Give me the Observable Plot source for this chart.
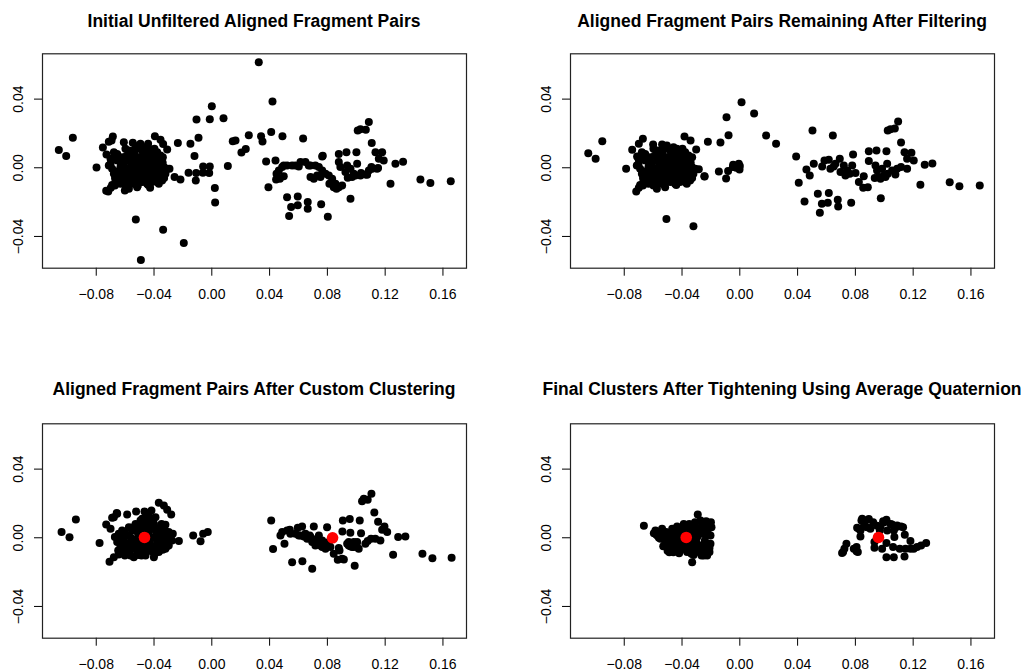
<!DOCTYPE html>
<html><head><meta charset="utf-8">
<script src="https://cdn.jsdelivr.net/npm/d3@7"></script>
<script src="https://cdn.jsdelivr.net/npm/@observablehq/plot@0.6"></script>
<style>
html,body{margin:0;padding:0;background:#fff;}
#root{position:relative;width:1028px;height:672px;overflow:hidden;background:#fff;font-family:"Liberation Sans",Arial,Helvetica,sans-serif;}
.title{position:absolute;font-weight:bold;font-size:17.5px;line-height:20px;text-align:center;white-space:nowrap;color:#000;}
</style></head><body><div id="root"></div>
<script>
// ---------- data ----------
const titles = [
  "Initial Unfiltered Aligned Fragment Pairs",
  "Aligned Fragment Pairs Remaining After Filtering",
  "Aligned Fragment Pairs After Custom Clustering",
  "Final Clusters After Tightening Using Average Quaternion"
];
const xTicks = [-0.08, -0.04, 0.00, 0.04, 0.08, 0.12, 0.16];
const yTicks = [-0.04, 0.00, 0.04];
const xDomain = [-0.1172, 0.1763];
const yDomain = [-0.0585, 0.0664];

// dense left cluster shared by the first two panels
const blobP12 = [
[-0.0701,0.0023],[-0.0690,-0.0006],[-0.0678,-0.0035],[-0.0667,0.0062],[-0.0655,0.0043],[-0.0667,-0.0083],
[-0.0644,-0.0054],[-0.0632,0.0004],[-0.0621,-0.0025],[-0.0609,0.0023],[-0.0604,-0.0074],[-0.0591,-0.0035],
[-0.0586,-0.0006],[-0.0574,0.0043],[-0.0568,-0.0064],[-0.0558,0.0072],[-0.0551,0.0014],[-0.0544,-0.0025],
[-0.0540,-0.0093],[-0.0535,0.0081],[-0.0528,0.0043],[-0.0521,0.0004],[-0.0517,-0.0045],[-0.0512,-0.0083],
[-0.0505,0.0062],[-0.0498,0.0111],[-0.0494,0.0023],[-0.0489,-0.0016],[-0.0482,-0.0054],[-0.0475,0.0081],
[-0.0471,0.0043],[-0.0466,0.0004],[-0.0459,-0.0035],[-0.0452,-0.0074],[-0.0448,0.0062],[-0.0443,0.0023],
[-0.0436,-0.0006],[-0.0429,-0.0045],[-0.0424,0.0091],[-0.0420,0.0043],[-0.0413,0.0004],[-0.0406,-0.0025],
[-0.0401,-0.0064],[-0.0397,0.0062],[-0.0390,0.0023],[-0.0383,-0.0016],[-0.0378,-0.0083],[-0.0374,0.0043],
[-0.0367,0.0004],[-0.0360,-0.0045],[-0.0355,0.0014],[-0.0351,-0.0016],[-0.0344,-0.0074],[-0.0551,0.0091],
[-0.0528,0.0120],[-0.0505,0.0130],[-0.0482,0.0101],[-0.0459,0.0120],[-0.0436,0.0111],[-0.0413,0.0062],
[-0.0563,-0.0054],[-0.0598,-0.0103],[-0.0574,-0.0122],[-0.0551,-0.0083],[-0.0517,-0.0113],[-0.0482,-0.0083],
[-0.0448,-0.0093],[-0.0413,-0.0083],[-0.0378,-0.0054],[-0.0655,0.0081],[-0.0678,0.0091],[-0.0701,0.0052],
[-0.0713,0.0014],[-0.0632,-0.0093],[-0.0621,0.0062],[-0.0598,0.0111],[-0.0574,0.0101],[-0.0397,0.0111],
[-0.0378,0.0091],[-0.0355,0.0072],[-0.0332,0.0004],[-0.0321,-0.0035],[-0.0309,-0.0006],[-0.0367,-0.0093],
[-0.0505,-0.0025],[-0.0540,-0.0035],[-0.0459,-0.0016],[-0.0424,-0.0054],[-0.0494,0.0052],
[-0.0717,-0.0138],[-0.0699,-0.0116],[-0.0671,-0.0103],
[-0.0690,-0.0100],[-0.0670,-0.0060],[-0.0650,-0.0020],[-0.0630,0.0030],[-0.0610,-0.0050],[-0.0590,0.0070],
[-0.0570,-0.0090],[-0.0560,0.0030],[-0.0540,0.0100],[-0.0530,-0.0060],[-0.0510,-0.0030],[-0.0500,0.0030],
[-0.0480,0.0000],[-0.0470,0.0100],[-0.0460,-0.0060],[-0.0450,0.0040],[-0.0440,-0.0100],[-0.0430,0.0080],
[-0.0420,-0.0020],[-0.0400,0.0020],[-0.0390,-0.0050],[-0.0370,0.0070],[-0.0360,-0.0020],[-0.0340,0.0030],
[-0.0330,-0.0060]
];

const extraP1 = [
[-0.1059,0.0103],[-0.1008,0.0068],[-0.0962,0.0175],[-0.0798,0.0002],[-0.0754,0.0118],[-0.0729,0.0078],
[-0.0731,-0.0134],[-0.0713,0.0151],[-0.0685,0.0182],[-0.0694,0.0159],[-0.0609,0.0149],[-0.0547,0.0146],
[-0.0394,0.0184],[-0.0355,0.0163],[-0.0337,0.0138],[-0.0309,0.0107],[-0.0235,0.0144],[-0.0494,0.0140],
[-0.0441,0.0140],[-0.0339,0.0062],[-0.0293,-0.0006],[-0.0258,-0.0054],[-0.0217,-0.0068],[-0.0148,0.0140],
[-0.0120,0.0068],[-0.0092,0.0175],[-0.0106,0.0281],[-0.0014,0.0283],[0.0000,0.0359],[0.0081,0.0289],
[-0.0161,-0.0029],[-0.0111,-0.0074],[-0.0108,-0.0031],[-0.0060,0.0008],[-0.0062,-0.0029],[-0.0014,0.0008],
[-0.0018,-0.0031],[0.0021,-0.0118],[0.0023,-0.0202],[0.0111,0.0010],[0.0145,0.0155],[0.0164,0.0159],
[0.0205,0.0089],[0.0235,0.0109],[0.0256,0.0190],[0.0325,0.0615],[0.0341,0.0184],[0.0351,0.0153],
[0.0376,0.0037],[0.0392,-0.0114],[0.0411,0.0208],[0.0420,0.0386],[0.0441,0.0043],[0.0489,0.0184],
[0.0632,0.0171],[-0.0526,-0.0301],[-0.0337,-0.0361],[-0.0194,-0.0438],[-0.0491,-0.0537],[-0.0427,-0.0116],
[-0.0602,-0.0132],[-0.0579,-0.0113],[-0.0512,-0.0103]
];

const rightP1 = [
[0.0448,-0.0035],[0.0464,-0.0016],[0.0487,0.0004],[0.0498,0.0014],[0.0521,0.0014],[0.0556,0.0014],
[0.0579,0.0014],[0.0602,0.0008],[0.0614,0.0033],[0.0648,0.0033],[0.0671,0.0014],[0.0683,0.0014],
[0.0717,0.0014],[0.0741,0.0004],[0.0764,-0.0016],[0.0787,-0.0035],[0.0810,-0.0045],[0.0833,-0.0064],
[0.0856,-0.0093],[0.0879,-0.0113],[0.0902,-0.0103],[0.0683,-0.0054],[0.0706,-0.0064],[0.0729,-0.0045],
[0.0752,-0.0054],[0.0764,0.0066],[0.0879,0.0081],[0.0932,0.0091],[0.1001,0.0091],[0.0879,0.0033],
[0.0937,0.0014],[0.0960,-0.0006],[0.0983,-0.0035],[0.1006,0.0023],[0.1029,-0.0045],[0.1064,-0.0039],
[0.1087,-0.0016],[0.1110,-0.0006],[0.1144,-0.0006],[0.0521,-0.0171],[0.0595,-0.0167],[0.0549,-0.0229],
[0.0595,-0.0219],[0.0664,-0.0200],[0.0664,-0.0239],[0.0535,-0.0281],[0.0757,-0.0213],[0.0803,-0.0285],
[0.0960,-0.0180],[0.1010,0.0217],[0.1029,0.0225],[0.1066,0.0221],[0.1087,0.0266],[0.1107,0.0144],
[0.1133,0.0091],[0.1179,0.0091],[0.1156,0.0052],[0.1190,0.0043],[0.1237,-0.0093],[0.1271,0.0023],
[0.1324,0.0035],[0.1444,-0.0068],[0.1513,-0.0089],[0.1654,-0.0078],[0.0890,0.0004],[0.0925,-0.0025],
[0.0941,-0.0058],[0.0971,-0.0054],[0.0994,-0.0045],[0.1033,-0.0031],[0.1075,-0.0041],[0.0814,-0.0093],
[0.0844,-0.0113],[0.0863,-0.0122],[0.0445,-0.0068],[0.0471,-0.0064],[0.0498,-0.0050],[0.0768,0.0070],
[0.1151,-0.0002],[0.1105,0.0004]
];

const extraP2 = [
[-0.1049,0.0085],[-0.0998,0.0052],[-0.0952,0.0155],[-0.0787,-0.0006],[-0.0745,0.0105],[-0.0711,0.0066],
[-0.0699,0.0140],[-0.0671,0.0169],[-0.0600,0.0136],[-0.0538,0.0136],[-0.0383,0.0182],[-0.0341,0.0159],
[-0.0302,0.0107],[-0.0330,0.0062],[-0.0284,-0.0008],[-0.0245,-0.0049],[-0.0221,0.0151],[-0.0134,0.0147],
[-0.0078,0.0190],[-0.0092,0.0295],[0.0012,0.0382],[0.0099,0.0316],[0.0182,0.0188],[0.0251,0.0140],
[-0.0145,-0.0021],[-0.0095,-0.0062],[-0.0081,-0.0019],[-0.0048,0.0004],[-0.0025,0.0000],[0.0000,0.0010],
[-0.0002,-0.0010],[-0.0508,-0.0299],[-0.0321,-0.0341],[-0.0244,-0.0051],[-0.0046,0.0017],[-0.0007,0.0023]
];

const rightP2 = [
[0.0390,0.0066],[0.0408,-0.0087],[0.0448,-0.0196],[0.0503,0.0217],[0.0644,0.0188],[0.0484,-0.0045],
[0.0461,-0.0010],[0.0512,0.0023],[0.0540,-0.0151],[0.0568,-0.0210],[0.0554,-0.0262],[0.0609,-0.0204],
[0.0616,-0.0147],[0.0678,-0.0186],[0.0681,-0.0225],[0.0771,-0.0204],[0.0976,-0.0178],[0.0570,0.0008],
[0.0586,0.0043],[0.0616,0.0047],[0.0627,-0.0006],[0.0650,0.0008],[0.0662,0.0023],[0.0692,0.0052],
[0.0697,-0.0025],[0.0720,0.0014],[0.0731,-0.0045],[0.0743,-0.0016],[0.0761,-0.0035],[0.0784,0.0078],
[0.0778,0.0014],[0.0801,-0.0031],[0.0824,-0.0083],[0.0858,-0.0050],[0.0854,-0.0116],[0.0886,-0.0113],
[0.0893,0.0097],[0.0946,0.0101],[0.1015,0.0097],[0.0893,0.0039],[0.0939,0.0014],[0.0950,-0.0016],
[0.0962,-0.0054],[0.0985,-0.0006],[0.0997,-0.0045],[0.1020,0.0023],[0.1024,-0.0035],[0.1054,-0.0016],
[0.1077,-0.0039],[0.1089,-0.0006],[0.1116,0.0004],[0.1158,-0.0006],[0.1024,0.0217],[0.1043,0.0225],
[0.1073,0.0229],[0.1096,0.0270],[0.1116,0.0147],[0.1140,0.0091],[0.1188,0.0087],[0.1158,0.0052],
[0.1204,0.0043],[0.1250,-0.0099],[0.1280,0.0017],[0.1333,0.0025],[0.1453,-0.0084],[0.1520,-0.0107],
[0.1661,-0.0103],[0.0934,-0.0060],[0.0974,-0.0064],[0.1008,-0.0054]
];

const leftP3 = [
[-0.1040,0.0033],[-0.0985,0.0003],[-0.0941,0.0107],[-0.0777,-0.0031],[-0.0731,0.0078],[-0.0701,0.0052],
[-0.0690,0.0116],[-0.0658,0.0144],[-0.0586,0.0136],[-0.0524,0.0153],[-0.0466,0.0153],[-0.0418,0.0159],
[-0.0367,0.0204],[-0.0332,0.0188],[-0.0309,0.0163],[-0.0281,0.0136],[-0.0321,0.0076],[-0.0270,0.0023],
[-0.0228,-0.0019],[-0.0129,0.0013],[-0.0078,-0.0020],[-0.0060,0.0023],[-0.0028,0.0033],[-0.0708,-0.0140],
[-0.0678,-0.0113],[-0.0644,-0.0097],[-0.0655,0.0140],[-0.0678,0.0120],
[-0.0671,0.0004],[-0.0655,-0.0025],[-0.0644,0.0023],[-0.0632,-0.0050],[-0.0621,0.0043],[-0.0609,-0.0006],
[-0.0598,-0.0074],[-0.0586,0.0014],[-0.0574,-0.0035],[-0.0563,-0.0103],[-0.0551,0.0043],[-0.0547,-0.0064],
[-0.0533,-0.0012],[-0.0528,0.0081],[-0.0517,-0.0083],[-0.0510,0.0023],[-0.0501,-0.0045],[-0.0494,0.0101],
[-0.0487,-0.0103],[-0.0482,0.0052],[-0.0471,-0.0064],[-0.0459,-0.0025],[-0.0448,0.0101],[-0.0441,0.0023],
[-0.0431,0.0120],[-0.0424,-0.0045],[-0.0418,0.0062],[-0.0408,-0.0083],[-0.0401,0.0004],[-0.0394,-0.0093],
[-0.0390,0.0043],[-0.0378,-0.0025],[-0.0371,-0.0064],[-0.0362,0.0014],[-0.0355,0.0062],[-0.0348,-0.0045],
[-0.0339,-0.0006],[-0.0332,0.0033],[-0.0321,-0.0064],[-0.0316,0.0014],[-0.0309,-0.0025],[-0.0298,-0.0045],
[-0.0286,0.0014],[-0.0275,-0.0016],[-0.0648,-0.0074],[-0.0602,-0.0103],[-0.0574,0.0062],[-0.0540,-0.0113],
[-0.0459,-0.0103],[-0.0424,-0.0006],[-0.0482,0.0111],[-0.0448,0.0062],[-0.0505,-0.0006],[-0.0616,-0.0039],
[-0.0348,0.0081],[-0.0325,-0.0031],[-0.0298,0.0033],[-0.0401,-0.0113],[-0.0367,-0.0083],
[-0.0640,-0.0010],[-0.0620,0.0010],[-0.0600,0.0030],[-0.0590,-0.0040],[-0.0570,-0.0070],[-0.0560,0.0000],
[-0.0550,0.0060],[-0.0530,-0.0040],[-0.0520,0.0040],[-0.0510,-0.0100],[-0.0500,0.0060],[-0.0490,-0.0020],
[-0.0470,0.0080],[-0.0460,-0.0060],[-0.0450,-0.0080],[-0.0440,0.0040],[-0.0430,-0.0020],[-0.0410,-0.0050],
[-0.0400,0.0080],[-0.0380,0.0030],[-0.0370,-0.0040],[-0.0350,0.0000],[-0.0340,-0.0070],[-0.0330,0.0050],
[-0.0310,-0.0050],[-0.0300,0.0000],[-0.0390,0.0120],[-0.0420,0.0100],[-0.0450,0.0130]
];

const rightP3 = [
[0.0411,0.0101],[0.0424,-0.0066],[0.0475,0.0014],[0.0487,0.0033],[0.0503,-0.0035],[0.0521,0.0043],
[0.0540,0.0047],[0.0556,-0.0142],[0.0579,0.0023],[0.0595,0.0058],[0.0602,0.0014],[0.0625,0.0066],
[0.0627,-0.0136],[0.0637,0.0008],[0.0660,-0.0006],[0.0678,0.0014],[0.0695,-0.0180],[0.0706,0.0066],
[0.0711,-0.0016],[0.0724,-0.0035],[0.0741,0.0014],[0.0752,-0.0045],[0.0764,-0.0016],[0.0775,-0.0054],
[0.0798,0.0062],[0.0810,-0.0025],[0.0844,-0.0093],[0.0872,-0.0128],[0.0879,-0.0060],[0.0884,-0.0074],
[0.0902,-0.0122],[0.0907,0.0101],[0.0914,-0.0126],[0.0955,0.0109],[0.0904,0.0037],[0.0959,0.0029],
[0.0948,-0.0025],[0.0959,-0.0050],[0.0971,-0.0031],[0.0983,-0.0054],[0.0989,-0.0163],[0.1001,-0.0039],
[0.1017,-0.0064],[0.1024,0.0101],[0.1033,0.0027],[0.1040,0.0213],[0.1052,0.0227],[0.1079,0.0221],
[0.1105,0.0256],[0.1063,-0.0035],[0.1079,-0.0019],[0.1102,-0.0006],[0.1125,0.0147],[0.1132,-0.0006],
[0.1151,0.0093],[0.1167,-0.0016],[0.1179,0.0047],[0.1195,0.0066],[0.1214,0.0033],[0.1255,-0.0099],
[0.1290,0.0004],[0.1340,0.0008],[0.1458,-0.0093],[0.1527,-0.0119],[0.1660,-0.0116],
[0.0695,-0.0025],[0.0717,-0.0045],[0.0741,-0.0025],[0.0764,-0.0054],[0.0787,-0.0035],[0.0729,-0.0006],
[0.0937,-0.0035],[0.0948,-0.0045],[0.0971,-0.0054],[0.0983,-0.0025],[0.1006,-0.0025],[0.0787,-0.0064],
[0.0821,-0.0054],[0.0614,0.0014],[0.0648,0.0023],[0.0683,0.0004],[0.0544,0.0023]
];
const centersP3 = [[-0.0466,0.0002],[0.0836,0.0000]];

const leftP4 = [
[-0.0664,0.0070],[-0.0291,0.0136],[-0.0330,-0.0142],
[-0.0595,0.0027],[-0.0584,0.0043],[-0.0572,0.0014],[-0.0561,0.0033],[-0.0549,-0.0006],[-0.0538,0.0052],
[-0.0533,0.0014],[-0.0519,-0.0016],[-0.0510,0.0033],[-0.0496,-0.0035],[-0.0487,-0.0074],[-0.0480,0.0004],
[-0.0468,0.0052],[-0.0457,-0.0025],[-0.0445,0.0023],[-0.0434,0.0066],[-0.0427,-0.0045],[-0.0418,-0.0006],
[-0.0404,0.0043],[-0.0388,0.0081],[-0.0376,-0.0045],[-0.0365,-0.0083],[-0.0353,0.0033],[-0.0341,-0.0016],
[-0.0335,-0.0093],[-0.0325,0.0014],[-0.0318,-0.0054],[-0.0311,0.0043],[-0.0302,-0.0025],[-0.0295,0.0004],
[-0.0284,-0.0064],[-0.0272,0.0101],[-0.0265,-0.0103],[-0.0261,0.0023],[-0.0249,0.0052],[-0.0242,-0.0016],
[-0.0238,-0.0064],[-0.0233,0.0097],[-0.0226,-0.0103],[-0.0219,-0.0035],[-0.0215,0.0072],[-0.0210,-0.0083],
[-0.0203,0.0014],[-0.0196,0.0062],[-0.0203,-0.0035],[-0.0514,0.0004],[-0.0491,0.0023],[-0.0445,-0.0016],
[-0.0411,0.0014],[-0.0307,-0.0083],[-0.0341,0.0062],[-0.0549,0.0023],[-0.0399,-0.0064],[-0.0358,-0.0016],
[-0.0249,-0.0103],[-0.0226,0.0023],[-0.0488,-0.0084],
[-0.0580,0.0020],[-0.0560,0.0000],[-0.0540,0.0035],[-0.0520,0.0010],[-0.0500,-0.0010],[-0.0480,-0.0045],
[-0.0470,0.0030],[-0.0460,0.0005],[-0.0450,-0.0060],[-0.0440,0.0045],[-0.0430,0.0015],[-0.0420,-0.0030],
[-0.0410,-0.0070],[-0.0400,0.0060],[-0.0390,0.0020],[-0.0380,-0.0010],[-0.0370,0.0055],[-0.0360,-0.0060],
[-0.0350,0.0080],[-0.0340,0.0030],[-0.0330,-0.0040],[-0.0320,-0.0100],[-0.0310,0.0090],[-0.0300,0.0060],
[-0.0290,-0.0040],[-0.0280,0.0030],[-0.0270,-0.0090],[-0.0260,0.0070],[-0.0250,-0.0040],[-0.0240,0.0030],
[-0.0230,-0.0090],[-0.0220,0.0050],[-0.0210,-0.0060],[-0.0200,0.0090],[-0.0530,-0.0050],[-0.0500,-0.0075],
[-0.0460,-0.0085],[-0.0420,-0.0090]
];

const rightP4 = [
[0.0715,-0.0083],[0.0724,-0.0064],[0.0738,-0.0035],[0.0789,-0.0064],[0.0808,-0.0054],[0.0817,-0.0083],
[0.0812,0.0058],[0.0835,0.0008],[0.0842,0.0101],[0.0858,0.0066],[0.0893,0.0109],[0.0904,0.0052],
[0.0923,0.0091],[0.0932,-0.0025],[0.0932,-0.0058],[0.0950,0.0070],[0.0969,0.0043],[0.0985,-0.0064],
[0.0992,0.0097],[0.1015,0.0105],[0.1015,-0.0031],[0.1015,-0.0113],[0.1020,0.0043],[0.1054,0.0078],
[0.1066,0.0043],[0.1066,-0.0113],[0.1061,-0.0054],[0.1070,0.0004],[0.1089,0.0072],[0.1116,0.0066],
[0.1130,0.0062],[0.1107,-0.0064],[0.1142,0.0017],[0.1147,-0.0064],[0.1140,-0.0109],[0.1181,-0.0019],
[0.1181,-0.0064],[0.1204,-0.0064],[0.1227,-0.0054],[0.1255,-0.0045],[0.1290,-0.0031],
[0.0847,0.0111],[0.0870,0.0101],[0.0824,0.0052],[0.0881,0.0062],[0.0835,0.0043],[0.0974,0.0066],
[0.1043,0.0081],[0.1077,0.0058],[0.0999,0.0091],[0.0708,-0.0089],[0.0808,-0.0078]
];
const centersP4 = [[-0.0371,0.0002],[0.0960,0.0002]];

// ---------- layout ----------
const fmt = d => d3.format(".2f")(d);
const panels = [
  {title: titles[0], pts: [...blobP12, ...extraP1, ...rightP1], centers: [], left: 0, top: 40, w: 514, h: 280, mr: 48, mb: 52.3, titleY: 10.7},
  {title: titles[1], pts: [...blobP12, ...extraP2, ...rightP2], centers: [], left: 528, top: 40, w: 500, h: 280, mr: 34, mb: 52.3, titleY: 10.7},
  {title: titles[2], pts: [...leftP3, ...rightP3], centers: centersP3, left: 0, top: 410, w: 514, h: 262, mr: 48, mb: 34.3, titleY: 379.3},
  {title: titles[3], pts: [...leftP4, ...rightP4], centers: centersP4, left: 528, top: 410, w: 500, h: 262, mr: 34, mb: 34.3, titleY: 379.3}
];

const root = document.getElementById("root");
for (const p of panels) {
  const boxCenter = p.left + 42 + (p.w - 42 - p.mr) / 2;
  const t = document.createElement("div");
  t.className = "title";
  t.textContent = p.title;
  t.style.left = (boxCenter - 300) + "px";
  t.style.width = "600px";
  t.style.top = p.titleY + "px";
  root.appendChild(t);

  const svg = Plot.plot({
    width: p.w, height: p.h,
    marginLeft: 42, marginRight: p.mr, marginTop: 13.3, marginBottom: p.mb,
    x: {domain: xDomain},
    y: {domain: yDomain},
    style: {fontFamily: '"Liberation Sans", Arial, Helvetica, sans-serif', fontSize: "14px", background: "transparent", color: "#000", overflow: "visible"},
    marks: [
      Plot.axisX(xTicks, {tickSize: 8, tickPadding: 13, tickFormat: fmt, fontSize: 14}),
      Plot.axisY(yTicks, {tickSize: 8, tickPadding: 12, tickRotate: -90, tickFormat: fmt, fontSize: 14}),
      Plot.dot(p.pts, {x: d => d[0], y: d => d[1], r: 4, fill: "#000"}),
      Plot.dot(p.centers, {x: d => d[0], y: d => d[1], r: 5.8, fill: "#ff0000"}),
      Plot.frame({stroke: "#222", strokeWidth: 1.2})
    ]
  });
  svg.style.position = "absolute";
  svg.style.left = p.left + "px";
  svg.style.top = p.top + "px";
  root.appendChild(svg);
}
</script></body></html>
